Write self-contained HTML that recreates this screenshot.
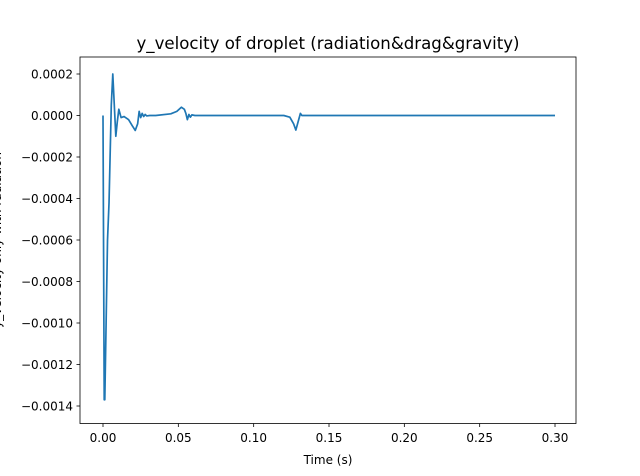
<!DOCTYPE html>
<html><head><meta charset="utf-8"><style>
body{margin:0;background:#fff;}
svg{display:block;font-family:"DejaVu Sans","Liberation Sans",sans-serif;}
</style></head><body>
<svg id="chart" width="640" height="476" viewBox="0 0 640 476">
<rect width="640" height="476" fill="#fff"/>
<text x="328" y="49" font-size="16.6" text-anchor="middle">y_velocity of droplet (radiation&amp;drag&amp;gravity)</text>
<text x="328" y="464" font-size="12" text-anchor="middle">Time (s)</text>
<text transform="translate(1,240) rotate(-90)" font-size="12" text-anchor="middle">y_velocity only with radiation</text>
<g id="ticks"></g>
<path id="line" fill="none" stroke="#1f77b4" stroke-width="1.7" stroke-linejoin="round"/>
<rect x="80" y="57" width="496" height="366.5" fill="none" stroke="#000" stroke-width="0.8"/>
</svg>
<script>
const times=[0,0.0008,0.0012,0.003,0.004,0.0055,0.0065,0.0075,0.0085,0.0095,0.0105,0.012,0.014,0.017,0.0195,0.0214,0.023,0.024,0.025,0.026,0.027,0.028,0.029,0.031,0.035,0.045,0.049,0.052,0.054,0.055,0.056,0.057,0.058,0.059,0.061,0.1,0.12,0.124,0.1265,0.128,0.1295,0.131,0.132,0.134,0.3];
const velocity=[0,-0.00137,-0.00137,-0.0006,-0.00042,0.00005,0.0002,0.00005,-0.0001,-0.00003,0.00003,-0.00001,-0.000005,-0.00002,-0.00005,-0.000072,-0.00004,0.00002,-0.00001,0.00001,-0.000005,0.000005,-0.000002,0,0,0.000008,0.00002,0.00004,0.00003,0.00001,-0.00002,0.000005,-0.000008,0.000003,0,0,0,-0.000008,-0.00004,-0.00007,-0.00003,0.00001,0,0,0];
const xTicks=[0,0.05,0.10,0.15,0.20,0.25,0.30];
const xTickLabels=["0.00","0.05","0.10","0.15","0.20","0.25","0.30"];
const yTicks=[0.0002,0,-0.0002,-0.0004,-0.0006,-0.0008,-0.0010,-0.0012,-0.0014];
const yTickLabels=["0.0002","0.0000","\u22120.0002","\u22120.0004","\u22120.0006","\u22120.0008","\u22120.0010","\u22120.0012","\u22120.0014"];
const X=t=>103+t*1506.7;
const Y=v=>115.5-v*207500;
const NS="http://www.w3.org/2000/svg";
const g=document.getElementById('ticks');
xTicks.forEach((t,i)=>{
 const l=document.createElementNS(NS,'line');
 l.setAttribute('x1',X(t));l.setAttribute('x2',X(t));l.setAttribute('y1',423.5);l.setAttribute('y2',427);l.setAttribute('stroke','#000');l.setAttribute('stroke-width','0.8');
 
 
 g.appendChild(l);
 const s=document.createElementNS(NS,'text');
 s.setAttribute('x',X(t));s.setAttribute('y',442);s.setAttribute('font-size','12');s.setAttribute('text-anchor','middle');
 s.textContent=xTickLabels[i];
 
 
 g.appendChild(s);
});
yTicks.forEach((v,i)=>{
 const l=document.createElementNS(NS,'line');
 l.setAttribute('x1',76.5);l.setAttribute('x2',80);l.setAttribute('y1',Y(v));l.setAttribute('y2',Y(v));l.setAttribute('stroke','#000');l.setAttribute('stroke-width','0.8');
 
 
 g.appendChild(l);
 const s=document.createElementNS(NS,'text');
 s.setAttribute('x',73);s.setAttribute('y',Y(v)+4.5);s.setAttribute('font-size','12');s.setAttribute('text-anchor','end');
 s.textContent=yTickLabels[i];
 
 
 g.appendChild(s);
});
document.getElementById('line').setAttribute('d',times.map((t,i)=>(i?'L':'M')+X(t).toFixed(2)+','+Y(velocity[i]).toFixed(2)).join(' '));
</script>
</body></html>
